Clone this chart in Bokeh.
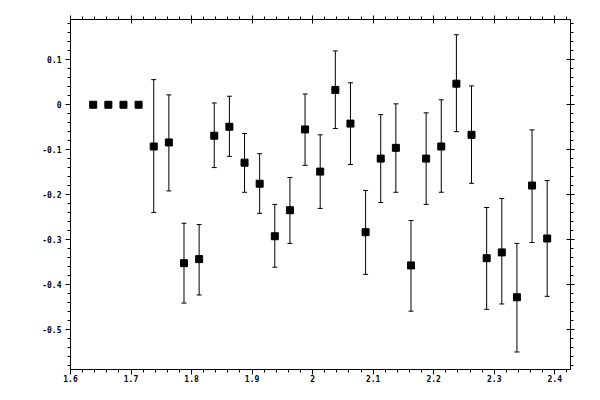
'''
Recreation of a scatter plot with error bars (Bokeh).
'''
import numpy as np
from bokeh.plotting import figure
from bokeh.models import (ColumnDataSource, Range1d, LinearAxis, SingleIntervalTicker,
                          PrintfTickFormatter, CustomJSTickFormatter, CustomLabelingPolicy,
                          Whisker, TeeHead)
from bokeh.embed import file_html
from bokeh.resources import INLINE

nan = np.nan

# data
x_vals = [1.6375, 1.6625, 1.6875, 1.7125, 1.7375, 1.7625, 1.7875, 1.8125,
          1.8375, 1.8625, 1.8875, 1.9125, 1.9375, 1.9625, 1.9875, 2.0125,
          2.0375, 2.0625, 2.0875, 2.1125, 2.1375, 2.1625, 2.1875, 2.2125,
          2.2375, 2.2625, 2.2875, 2.3125, 2.3375, 2.3625, 2.3875]
y_vals = [0.0, 0.0, 0.0, 0.0, -0.093, -0.084, -0.353, -0.344,
          -0.069, -0.049, -0.129, -0.176, -0.293, -0.235, -0.055, -0.149,
          0.033, -0.042, -0.284, -0.120, -0.096, -0.358, -0.120, -0.093,
          0.047, -0.067, -0.342, -0.329, -0.429, -0.180, -0.298]
y_upper = [nan, nan, nan, nan, 0.056, 0.022, -0.264, -0.267,
           0.004, 0.019, -0.064, -0.109, -0.222, -0.162, 0.024, -0.067,
           0.120, 0.049, -0.191, -0.022, 0.002, -0.258, -0.018, 0.011,
           0.156, 0.042, -0.229, -0.209, -0.309, -0.056, -0.169]
y_lower = [nan, nan, nan, nan, -0.240, -0.192, -0.442, -0.424,
           -0.140, -0.115, -0.195, -0.242, -0.362, -0.309, -0.135, -0.231,
           -0.053, -0.133, -0.378, -0.218, -0.195, -0.460, -0.222, -0.195,
           -0.060, -0.175, -0.456, -0.444, -0.551, -0.307, -0.427]

src = ColumnDataSource(data=dict(x=x_vals, y=y_vals,
                                 upper=np.array(y_upper), lower=np.array(y_lower)))

p = figure(width=584, height=384,
           x_range=Range1d(1.6, 2.426), y_range=Range1d(-0.59, 0.19),
           output_backend="svg", toolbar_location=None,
           min_border_left=70, min_border_right=14,
           min_border_top=19, min_border_bottom=14)
p.outline_line_color = None
p.grid.visible = False

p.add_layout(LinearAxis(), "above")
p.add_layout(LinearAxis(), "right")

# drop every label on the top/right axes (ticks only)
no_labels = CustomLabelingPolicy(code="""
try {
  for (const i of Array.from(indices.ones())) { indices.unset(i) }
} catch (e) {}
return indices
""")


def style_axis(ax, show_labels):
	ax.ticker = SingleIntervalTicker(interval=0.1, num_minor_ticks=5)
	ax.axis_line_color = "black"
	ax.major_tick_line_color = "black"
	ax.minor_tick_line_color = "black"
	ax.minor_tick_in = 0
	ax.minor_tick_out = 3
	ax.major_label_text_font = "DejaVu Sans Mono"
	ax.major_label_text_font_size = "8px"
	ax.major_label_text_font_style = "bold"
	ax.major_label_text_color = "black"
	if show_labels:
		ax.formatter = PrintfTickFormatter(format="%.6g")
		ax.major_tick_in = 0
		ax.major_tick_out = 5
	else:
		ax.formatter = CustomJSTickFormatter(code="return ''")
		ax.major_label_policy = no_labels
		ax.major_tick_in = 4
		ax.major_tick_out = 4
		ax.major_label_standoff = 0


for ax in p.below + p.left:
	style_axis(ax, True)
for ax in p.above + p.right:
	style_axis(ax, False)
p.below[0].major_label_standoff = 0
p.left[0].major_label_standoff = 4

# error bars
whisk = Whisker(source=src, base="x", upper="upper", lower="lower",
                line_color="black", line_width=1,
                upper_head=TeeHead(size=5, line_color="black", line_width=1),
                lower_head=TeeHead(size=5, line_color="black", line_width=1))
p.add_layout(whisk)

# points
p.scatter("x", "y", source=src, marker="square", size=7,
          fill_color="black", line_color="black")

open("out.html", "w").write(file_html(p, INLINE))
